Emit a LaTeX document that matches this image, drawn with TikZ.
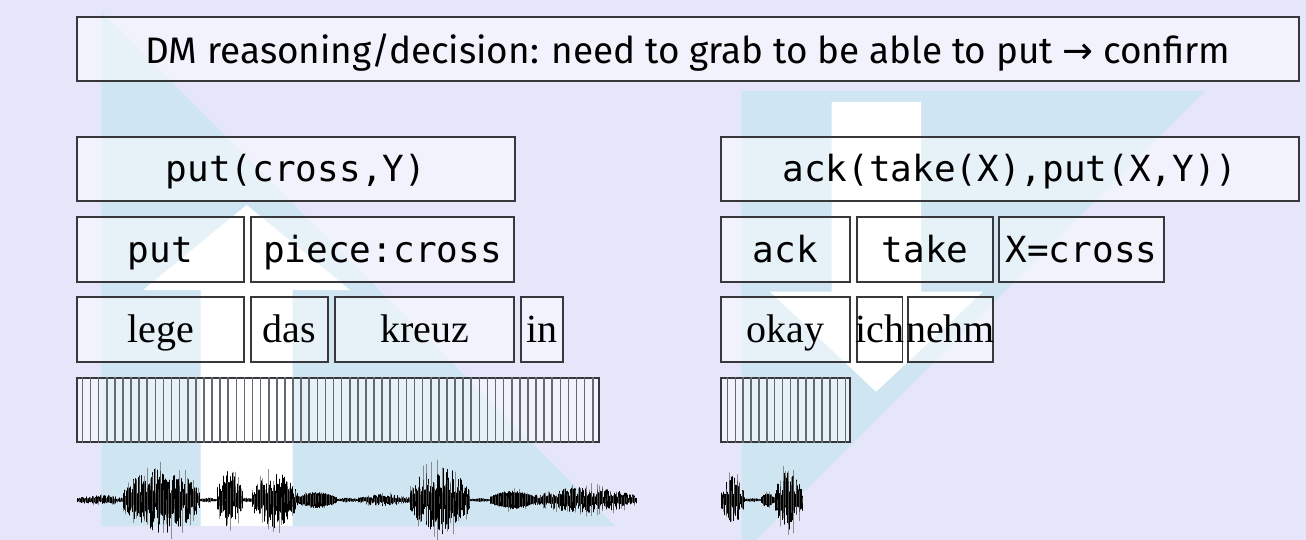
\documentclass[tikz,border=0pt]{standalone}
\usepackage{fontspec}
\newfontfamily\titlefont{Fira Sans}
\newfontfamily\codefont{DejaVu Sans Mono}
\newfontfamily\wordfont{Liberation Serif}
\newfontfamily\symfont{DejaVu Sans}
\definecolor{lavender}{RGB}{230,230,250}
\definecolor{skyblue}{RGB}{207,229,242}
\definecolor{rim}{RGB}{55,55,60}
\definecolor{tick}{RGB}{100,106,114}
\tikzset{>=latex}

\begin{document}
\begin{tikzpicture}[x=1pt,y=-1pt,
  cell/.style={draw=rim,line width=1.1pt,fill=white,fill opacity=0.5,text opacity=1,
    inner sep=0pt,minimum height=64pt,text height=30pt,text depth=4pt},
  code/.style={font=\codefont\fontsize{36pt}{40pt}\selectfont},
  word/.style={font=\wordfont\fontsize{40pt}{44pt}\selectfont},
  wave/.style={line width=0.9pt,line cap=round}]
\useasboundingbox[fill=lavender] (0,0) rectangle (1306,540);

% the two processing directions
\fill[skyblue] (101.7,12) -- (101.7,526) -- (615,526) -- cycle;
\fill[skyblue] (741.7,91) -- (1205,91) -- (756,540) -- (741.7,540) -- cycle;
\fill[white] (246.7,205) -- (350,290) -- (292.7,290) -- (292.7,526) -- (200.7,526)
  -- (200.7,290) -- (143,290) -- cycle;
\fill[white] (831.7,102) -- (921,102) -- (921,291.7) -- (983,291.7) -- (876,391.7)
  -- (770,291.7) -- (831.7,291.7) -- cycle;

% decision
\node[cell,minimum width=1222pt,text height=34pt,
  font=\titlefont\fontsize{36.9pt}{42pt}\selectfont] (title) at (688,49)
  {DM reasoning/decision: need to grab to be able to put {\symfont→} confirm};

% understanding the instruction
\node[cell,code,minimum width=438pt] (pred) at (296,169) {put(cross,Y)};
\node[cell,code,minimum width=167pt,minimum height=65pt] (put) at (160.5,249.5) {put};
\node[cell,code,minimum width=263pt,minimum height=65pt] (piece) at (382.5,249.5) {piece:cross};
\node[cell,word,minimum width=167pt,minimum height=65pt] (lege) at (160.5,329.5) {lege};
\node[cell,word,minimum width=77pt,minimum height=65pt] (das) at (289.5,329.5) {das};
\node[cell,word,minimum width=179pt,minimum height=65pt] (kreuz) at (424.5,329.5) {kreuz};
\node[cell,word,minimum width=42pt,minimum height=65pt] (inw) at (542,329.5) {in};
\node[cell,minimum width=522pt] (framesL) at (338,410) {};
\foreach \k in {0,...,63}
  \draw[tick,line width=1.6pt] ([xshift={(6+8.1*\k)*1pt}]framesL.north west)
    -- ([xshift={(6+8.1*\k)*1pt}]framesL.south west);

% producing the answer
\node[cell,code,minimum width=578pt] (ackpred) at (1010,169) {ack(take(X),put(X,Y))};
\node[cell,code,minimum width=129pt,minimum height=65pt] (ack) at (785.5,249.5) {ack};
\node[cell,code,minimum width=136pt,minimum height=65pt] (take) at (925,249.5) {take};
\node[cell,code,minimum width=165pt,minimum height=65pt] (xval) at (1081.5,249.5) {X=cross};
\node[cell,word,minimum width=129pt,minimum height=65pt] (okay) at (785.5,329.5) {okay};
\node[cell,word,minimum width=45.5pt,minimum height=65pt] (ich) at (879.75,329.5) {\makebox[0pt]{ich}};
\node[cell,word,minimum width=85pt,minimum height=65pt] (nehm) at (950.5,329.5) {\makebox[0pt]{nehm}};
\node[cell,minimum width=129pt] (framesR) at (785.5,410) {};
\foreach \k in {0,...,15}
  \draw[tick,line width=1.6pt] ([xshift={(7+7.87*\k)*1pt}]framesR.north west)
    -- ([xshift={(7+7.87*\k)*1pt}]framesR.south west);

% waveforms: segment start/end/amplitude/jitter
\pgfmathsetseed{11}
\foreach \a/\b/\amp/\r in {77/123/5/0.8, 123/200/33/0.8, 200/217/2/0.5, 217/243/30/0.8,
    243/252/2/0.5, 252/297/28/0.8, 297/337/8/0.3, 337/358/2/0.6, 358/410/6/0.8,
    410/470/34/0.8, 470/490/1.5/0.5, 490/535/9/0.25, 535/637/13/0.8,
    721/745/24/0.8, 745/761/1.5/0.5, 761/775/7/0.3, 775/802/30/0.8}{
  \pgfmathtruncatemacro\n{(\b-\a)/0.9}
  \foreach \i in {0,...,\n}{
    \pgfmathsetmacro\x{\a+0.9*\i}
    \pgfmathsetmacro\env{\amp*(0.35+0.65*sin(180*(\i/\n)))}
    \pgfmathsetmacro\up{\env*((1-\r)+\r*rnd)}
    \pgfmathsetmacro\dn{\env*((1-\r)+\r*rnd)}
    \draw[wave] (\x,{500-\up}) -- (\x,{500+\dn});
    \pgfmathtruncatemacro\m{mod(\i,3)}
    \ifnum\m=0
      \pgfmathsetmacro\hi{1.3*\env*rnd}
      \draw[wave,black!60,opacity=0.7] (\x,{500-\hi}) -- (\x,{500+1.3*\env*rnd});
    \fi
  }
}
\end{tikzpicture}
\end{document}
